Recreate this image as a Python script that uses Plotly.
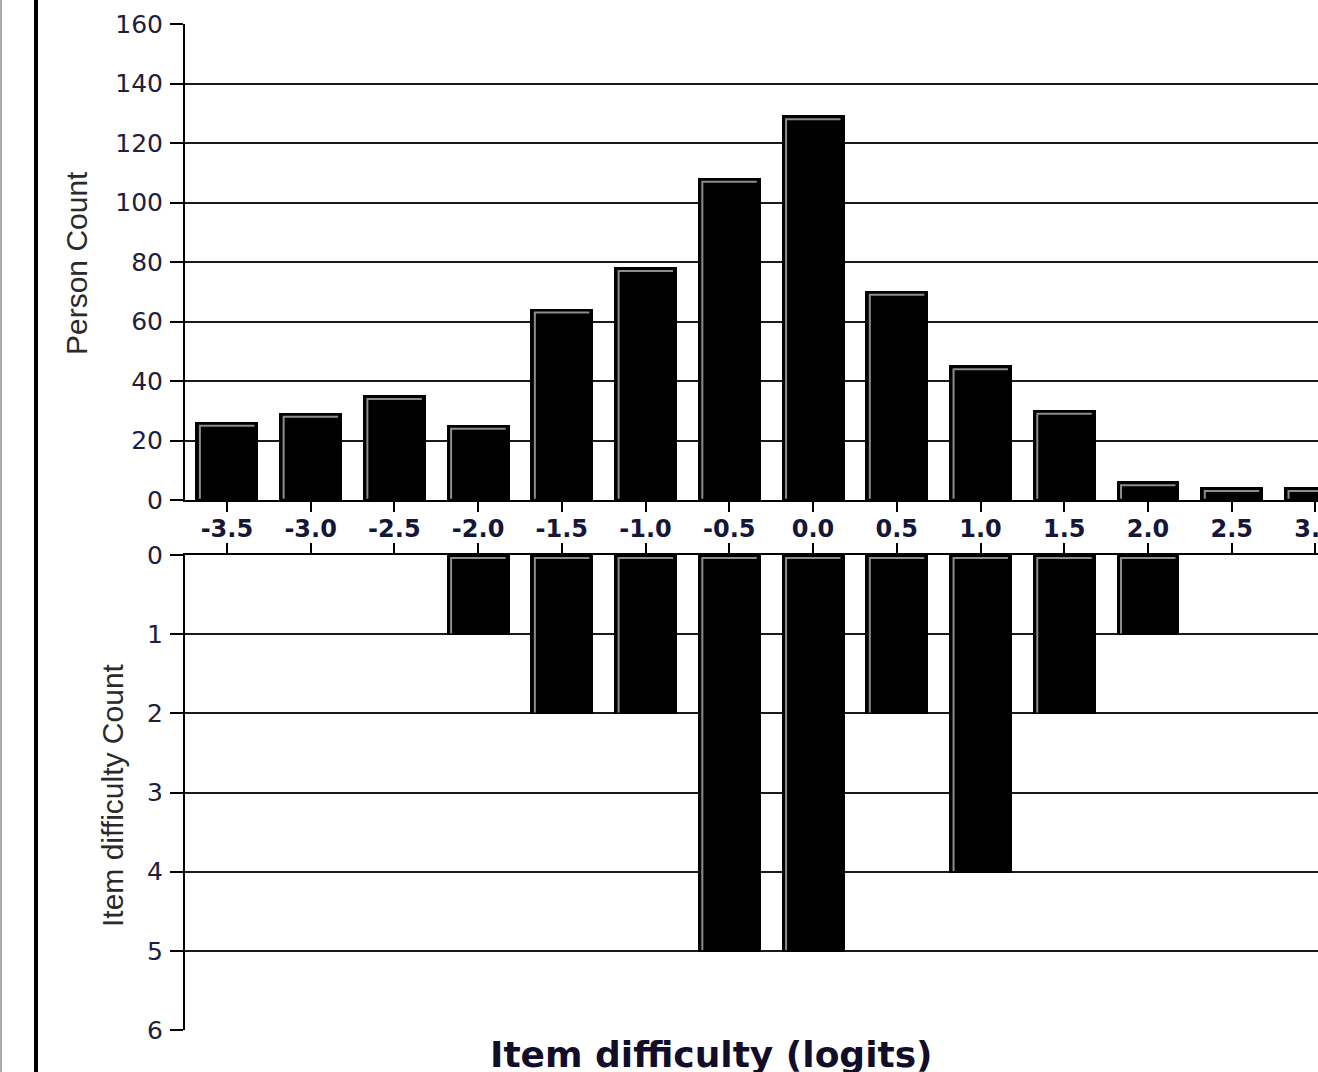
import plotly.graph_objects as go

# ---- data ----
logits = [-3.5, -3.0, -2.5, -2.0, -1.5, -1.0, -0.5, 0.0, 0.5, 1.0, 1.5, 2.0, 2.5, 3.0]
tick_labels = ["-3.5", "-3.0", "-2.5", "-2.0", "-1.5", "-1.0", "-0.5", "0.0",
               "0.5", "1.0", "1.5", "2.0", "2.5", "3.0"]
person_count = [26, 29, 35, 25, 64, 78, 108, 129, 70, 45, 30, 6, 4, 4]
item_count = [0, 0, 0, 1, 2, 2, 5, 5, 2, 4, 2, 1, 0, 0]

W, H = 1318, 1072
L = 185
BAR_W = 0.364
XR = [-3.75, 3.015]
px_per_x = (W - L) / (XR[1] - XR[0])

top_dom = [(H - 500) / H, (H - 24) / H]
bot_dom = [(H - 1030) / H, (H - 555) / H]
px_per_y1 = (500 - 24) / 160.0
px_per_y2 = (1030 - 555) / 6.0

fig = go.Figure()

person_y = [v if v > 0 else None for v in person_count]
item_y = [v if v > 0 else None for v in item_count]

fig.add_trace(go.Bar(x=logits, y=person_y, width=BAR_W,
                     marker=dict(color="black", line=dict(color="black", width=2)),
                     xaxis="x", yaxis="y", showlegend=False))
fig.add_trace(go.Bar(x=logits, y=item_y, width=BAR_W,
                     marker=dict(color="black", line=dict(color="black", width=2)),
                     xaxis="x2", yaxis="y2", showlegend=False))

# gray bevel highlights (left and top edges inside each bar)
dx = 3.5 / px_per_x
dx_r = 3.0 / px_per_x
hx, hy = [], []
for x, v in zip(logits, person_count):
    if v <= 0:
        continue
    dy = 3.0 / px_per_y1
    x0 = x - BAR_W / 2 + dx
    x1 = x + BAR_W / 2 - dx_r
    hx += [x0, x0, x1, None]
    hy += [0.4, v - dy, v - dy, None]
fig.add_trace(go.Scatter(x=hx, y=hy, mode="lines", line=dict(color="#8c8c8c", width=2),
                         xaxis="x", yaxis="y", showlegend=False, hoverinfo="skip"))
hx2, hy2 = [], []
for x, v in zip(logits, item_count):
    if v <= 0:
        continue
    dy = 3.0 / px_per_y2
    x0 = x - BAR_W / 2 + dx
    x1 = x + BAR_W / 2 - dx_r
    hx2 += [x0, x0, x1, None]
    hy2 += [v - 0.01, dy, dy, None]
fig.add_trace(go.Scatter(x=hx2, y=hy2, mode="lines", line=dict(color="#8c8c8c", width=2),
                         xaxis="x2", yaxis="y2", showlegend=False, hoverinfo="skip"))

tickfont_y = dict(family="DejaVu Sans", size=25, color="#20203a")
tickfont_x = dict(family="DejaVu Sans", size=24, color="#161638", weight="bold")

fig.update_layout(
    template="none",
    width=W, height=H,
    margin=dict(l=L, r=0, t=0, b=0, pad=0, autoexpand=False),
    paper_bgcolor="white", plot_bgcolor="white",
    bargap=0,
    xaxis=dict(domain=[0, 1], range=XR, anchor="y", tickmode="array", automargin=False,
               tickvals=logits, ticktext=tick_labels, ticks="outside", ticklen=10,
               tickwidth=2, tickcolor="black", showline=True, linecolor="black",
               linewidth=2, showgrid=False, zeroline=False, tickfont=tickfont_x,
               ticklabeloverflow="allow", ticklabelstandoff=-4),
    yaxis=dict(domain=top_dom, range=[0, 160], dtick=20, anchor="x", ticks="outside",
               automargin=False,
               ticklen=13, tickwidth=2, tickcolor="black", showline=True,
               linecolor="black", linewidth=2, showgrid=True, gridcolor="#1a1a1a",
               gridwidth=2, zeroline=False, tickfont=tickfont_y, ticklabelstandoff=2),
    xaxis2=dict(domain=[0, 1], range=XR, anchor="y2", side="top", tickmode="array",
                automargin=False,
                tickvals=logits, ticks="outside", ticklen=10, tickwidth=2,
                tickcolor="black", showticklabels=False, showline=True,
                linecolor="black", linewidth=2, showgrid=False, zeroline=False),
    yaxis2=dict(domain=bot_dom, range=[6, 0], dtick=1, anchor="x2", ticks="outside",
                automargin=False,
                ticklen=13, tickwidth=2, tickcolor="black", showline=True,
                linecolor="black", linewidth=2, showgrid=True, gridcolor="#1a1a1a",
                gridwidth=2, zeroline=False, tickfont=tickfont_y, ticklabelstandoff=2),
)

def px_x(p):
    return (p - L) / (W - L)

def px_y(p):
    return (H - p) / H

fig.add_annotation(text="Person Count", x=px_x(76), y=px_y(263), xref="paper", yref="paper",
                   xanchor="center", yanchor="middle", textangle=-90, showarrow=False,
                   font=dict(family="Liberation Sans", size=30, color="#2a2a2a"))
fig.add_annotation(text="Item difficulty Count", x=px_x(112), y=px_y(795), xref="paper",
                   yref="paper", xanchor="center", yanchor="middle", textangle=-90,
                   showarrow=False,
                   font=dict(family="Liberation Sans", size=30, color="#2a2a2a"))
fig.add_annotation(text="<b>Item difficulty (logits)</b>", x=px_x(711), y=px_y(1032),
                   xref="paper", yref="paper", xanchor="center", yanchor="top",
                   showarrow=False,
                   font=dict(family="DejaVu Sans", size=36, color="#120e2a"))

# left page border lines
fig.add_shape(type="line", xref="paper", yref="paper", x0=px_x(36), x1=px_x(36), y0=0, y1=1,
              line=dict(color="black", width=4))
fig.add_shape(type="line", xref="paper", yref="paper", x0=px_x(1), x1=px_x(1), y0=0, y1=1,
              line=dict(color="#aaaaaa", width=2))

fig.write_html("out.html", config={"displayModeBar": False},
               post_script="document.body.style.margin='0';document.body.style.overflow='hidden';")
